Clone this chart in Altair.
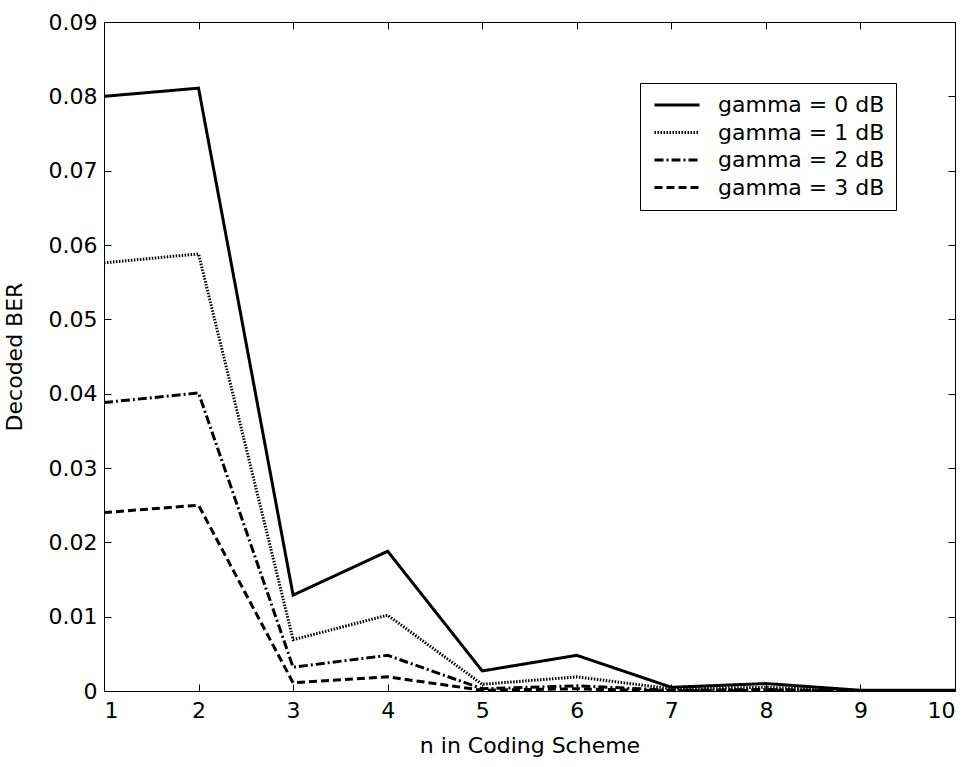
import altair as alt
import pandas as pd

n_values = [1, 2, 3, 4, 5, 6, 7, 8, 9, 10]
series_names = ["gamma = 0 dB", "gamma = 1 dB", "gamma = 2 dB", "gamma = 3 dB"]
gamma0 = [0.0800, 0.0811, 0.0129, 0.0188, 0.0027, 0.0048, 0.0005, 0.0010, 0.0001, 0.0001]
gamma1 = [0.0576, 0.0588, 0.0069, 0.0102, 0.0009, 0.0019, 0.0003, 0.0005, 0.0000, 0.0000]
gamma2 = [0.0388, 0.0401, 0.0032, 0.0048, 0.0003, 0.0007, 0.0001, 0.0002, 0.0000, 0.0000]
gamma3 = [0.0240, 0.0250, 0.0011, 0.0019, 0.0001, 0.0003, 0.0000, 0.0001, 0.0000, 0.0000]
y_ticks = [0, 0.01, 0.02, 0.03, 0.04, 0.05, 0.06, 0.07, 0.08, 0.09]

rows = []
for name, vals in zip(series_names, [gamma0, gamma1, gamma2, gamma3]):
    for n, v in zip(n_values, vals):
        rows.append({"n": n, "ber": v, "series": name})
df = pd.DataFrame(rows)

FONT = "DejaVu Sans"
dashes = [[1, 0], [1.5, 1.5], [9, 3, 2, 3], [8, 4]]

xscale = alt.Scale(domain=[1, 10], nice=False, zero=False)
yscale = alt.Scale(domain=[0, 0.09], nice=False)

lines = alt.Chart(df).mark_line(color="black", strokeWidth=3, clip=True).encode(
    x=alt.X("n:Q", scale=xscale,
            axis=alt.Axis(orient="bottom", values=n_values, format="d", offset=-7,
                          tickSize=7, domain=False, grid=False, labelPadding=9,
                          title="n in Coding Scheme", titlePadding=14,
                          titleFontWeight="normal")),
    y=alt.Y("ber:Q", scale=yscale,
            axis=alt.Axis(orient="left", values=y_ticks, format=".2~f", offset=-7,
                          tickSize=7, domain=False, grid=False, labelPadding=7,
                          title="Decoded BER", titlePadding=22,
                          titleFontWeight="normal")),
    strokeDash=alt.StrokeDash(
        "series:N",
        sort=series_names,
        scale=alt.Scale(domain=series_names, range=dashes),
        legend=alt.Legend(
            title=None, orient="none", legendX=536, legendY=61,
            symbolType="M-1,0H5", symbolSize=225, symbolStrokeWidth=3,
            symbolStrokeColor="black", labelFontSize=22, labelFont=FONT,
            labelColor="black", labelOffset=45, rowPadding=5.5,
            labelLimit=400, padding=11, strokeColor="black", fillColor="white",
        ),
    ),
)

frame = alt.Chart(df).mark_line(opacity=0).encode(
    x=alt.X("n:Q", scale=xscale,
            axis=alt.Axis(orient="top", values=n_values, offset=-7, tickSize=7,
                          domain=False, grid=False, labels=False, title=None)),
    y=alt.Y("ber:Q", scale=yscale,
            axis=alt.Axis(orient="right", values=y_ticks, offset=-7, tickSize=7,
                          domain=False, grid=False, labels=False, title=None)),
)

chart = alt.layer(lines, frame).resolve_axis(x="independent", y="independent").properties(
    width=851, height=669,
    autosize=alt.AutoSizeParams(type="none"),
    padding={"left": 104, "top": 22, "right": 19, "bottom": 76},
    background="white",
).configure_view(stroke="black", strokeWidth=1).configure_axis(
    labelFont=FONT, labelFontSize=22, labelColor="black",
    titleFont=FONT, titleFontSize=22, titleColor="black",
    tickColor="black", tickWidth=1,
)

chart.save("out.html", embed_options={"renderer": "svg", "actions": False})
